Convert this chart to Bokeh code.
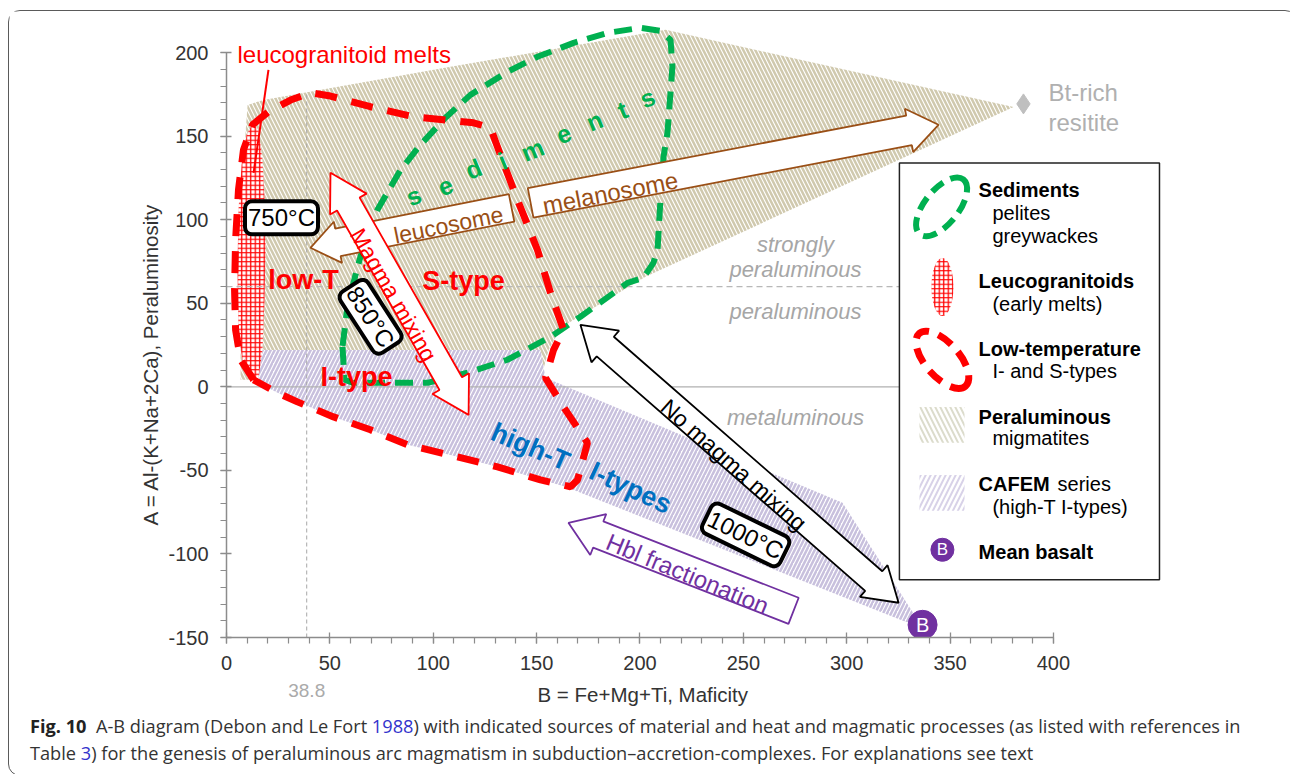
import math
from bokeh.plotting import figure
from bokeh.layouts import column
from bokeh.models import (ColumnDataSource, Label, FixedTicker, Range1d, LinearAxis,
                          PrintfTickFormatter, Div, Title)
from bokeh.core.properties import value
from bokeh.embed import file_html
from bokeh.resources import INLINE

# ---------------------------------------------------------------------------
# Axis ticks (B = Fe+Mg+Ti, A = Al-(K+Na+2Ca))
# ---------------------------------------------------------------------------
b_ticks = [0, 50, 100, 150, 200, 250, 300, 350, 400]
b_minor = list(range(0, 401, 10))
a_ticks = [-150, -100, -50, 0, 50, 100, 150, 200]
a_minor = list(range(-150, 201, 10))

# reference values
b_mean_line = 38.8          # vertical dashed reference
a_strong_split = 60         # strongly peraluminous / peraluminous
a_meta_split = 0            # peraluminous / metaluminous

# ---------------------------------------------------------------------------
# Fields (B, A outlines)
# ---------------------------------------------------------------------------
migmatite_b = [6.8, 6.8, 10.2, 17.9, 108.4, 212.4, 380.7, 202.7, 161.6, 155.8, 151.9]
migmatite_a = [4.2, 111.9, 168.7, 171.7, 191.5, 213.6, 167.5, 65.8, 35.3, 22.1, 4.2]

cafem_b = [12.6, 15.5, 151.9, 154.3, 298.0, 331.8, 334.7, 328.4, 164.0, 131.1,
           109.8, 87.6, 69.7, 51.8, 34.3, 24.7]
cafem_a = [4.2, 22.1, 22.1, 5.4, -69.4, -134.6, -142.4, -140.6, -59.8, -47.9,
           -41.3, -34.7, -25.7, -18.0, -9.0, -3.6]

leuco_b = [12.6, 15.5, 17.4, 18.4, 18.9, 18.4, 17.4, 15.5, 11.6, 8.2, 5.8, 5.3, 5.8, 7.3, 9.7]
leuco_a = [157.4, 153.8, 135.8, 111.9, 82.0, 52.1, 22.1, 5.4, 3.0, 10.2, 34.1, 70.0, 105.9, 132.9, 150.8]

sediments_b = [56.1, 57.1, 61.0, 97.2, 116.6, 135.9, 156.7, 171.2, 194.0, 201.7, 206.5,
               208.5, 209.9, 211.4, 213.3, 215.7, 214.8, 209.9, 200.3, 184.3, 167.9,
               150.4, 135.9, 118.0, 105.9, 93.8, 84.2, 73.0, 67.2, 63.4, 58.5, 56.1]
sediments_a = [23.9, 4.2, 2.4, 2.4, 8.4, 16.2, 29.9, 41.9, 62.2, 65.2, 74.2,
               82.0, 111.9, 137.6, 152.0, 191.5, 207.6, 213.0, 214.8, 211.8, 205.8,
               197.5, 188.5, 174.7, 161.0, 144.8, 129.8, 105.9, 88.0, 71.8, 47.9, 23.9]

low_t_b = [13.1, 6.8, 4.4, 3.9, 4.4, 5.8, 8.2, 12.6, 20.3, 31.0, 40.6, 50.3, 69.6, 90.4,
           119.5, 127.7, 132.5, 139.8, 150.4, 156.7, 163.0, 158.2, 154.3, 163.0, 174.6,
           169.8, 166.4, 151.9, 131.1, 109.8, 87.5, 69.6, 51.8, 34.3, 24.7, 13.1]
low_t_a = [4.2, 16.2, 34.1, 58.0, 88.0, 117.9, 141.8, 156.8, 164.6, 171.6, 176.0, 174.0,
           167.6, 161.6, 158.0, 155.0, 138.8, 114.9, 82.0, 56.3, 34.1, 22.1, 5.4, -12.0,
           -33.5, -55.7, -59.8, -55.7, -47.9, -41.3, -34.7, -25.7, -18.0, -9.0, -3.6, 4.2]

# end members
resitite_b, resitite_a = 385.5, 169.3
basalt_b, basalt_a = 336.7, -142.4

# process arrows: (start, end) in B-A space
leucosome_arrow = ((137.9, 107.1), (40.6, 83.2))
melanosome_arrow = ((147.1, 110.1), (344.4, 156.8))
magma_mixing_arrow = ((50.3, 128.1), (117.1, -16.8))
no_mixing_arrow = ((171.2, 37.1), (325.1, -129.2))
hbl_arrow = ((274.3, -134.0), (165.4, -81.4))

# ---------------------------------------------------------------------------
# Canvas geometry
# ---------------------------------------------------------------------------
W, H = 1277, 716
LEFT, RIGHT, TOP, BOTTOM = 217, 16, 9, 90
B_RANGE = (0, 505)
A_RANGE = (-150, 219.2)
FRAME_W = W - LEFT - RIGHT
FRAME_H = H - TOP - BOTTOM
SX = FRAME_W / (B_RANGE[1] - B_RANGE[0])
SY = FRAME_H / (A_RANGE[1] - A_RANGE[0])

CHART_FONT = "Liberation Sans"
CAPTION_FONT = "Open Sans"
GREEN = "#00b050"
RED = "#ff0000"
BROWN = "#9a4f16"
PURPLE = "#7030a0"
BLUE = "#0070c0"
GREY_TXT = "#a6a6a6"
BEIGE = "#d0c9ae"
LAVENDER = "#c8c0dd"


def arrow_outline(start, end, body, head, head_len, double=False):
    """Block-arrow outline (pixel-sized widths) between two data points."""
    x0, y0 = start[0] * SX, start[1] * SY
    x1, y1 = end[0] * SX, end[1] * SY
    dx, dy = x1 - x0, y1 - y0
    L = math.hypot(dx, dy)
    ux, uy = dx / L, dy / L
    nx, ny = -uy, ux

    def pt(s, t):
        return (x0 + ux * s + nx * t, y0 + uy * s + ny * t)

    if double:
        pts = [pt(0, 0), pt(head_len, head), pt(head_len, body), pt(L - head_len, body),
               pt(L - head_len, head), pt(L, 0), pt(L - head_len, -head),
               pt(L - head_len, -body), pt(head_len, -body), pt(head_len, -head)]
    else:
        pts = [pt(0, body), pt(L - head_len, body), pt(L - head_len, head), pt(L, 0),
               pt(L - head_len, -head), pt(L - head_len, -body), pt(0, -body)]
    return [q[0] / SX for q in pts], [q[1] / SY for q in pts]


p = figure(width=W, height=H, x_range=Range1d(*B_RANGE), y_range=Range1d(*A_RANGE),
           output_backend="svg", toolbar_location=None,
           min_border_left=LEFT, min_border_right=RIGHT,
           min_border_top=TOP, min_border_bottom=BOTTOM)
p.grid.visible = False
p.outline_line_color = None
p.background_fill_color = "white"
p.border_fill_color = "white"

xa, ya = p.xaxis[0], p.yaxis[0]
xa.ticker = FixedTicker(ticks=b_ticks, minor_ticks=b_minor)
ya.ticker = FixedTicker(ticks=a_ticks, minor_ticks=a_minor)
ya.formatter = PrintfTickFormatter(format="%d")
xa.bounds = (b_ticks[0], b_ticks[-1])
ya.bounds = (a_ticks[0], a_ticks[-1])
for ax in (xa, ya):
    ax.axis_line_color = "#8c8c8c"
    ax.axis_line_width = 1.5
    ax.major_tick_line_color = "#8c8c8c"
    ax.minor_tick_line_color = "#8c8c8c"
    ax.major_tick_line_width = 1.3
    ax.minor_tick_line_width = 1.2
    ax.major_tick_in = 5
    ax.major_tick_out = 6
    ax.minor_tick_in = 0
    ax.minor_tick_out = 6
    ax.major_label_text_font = CHART_FONT
    ax.major_label_text_font_size = "20px"
    ax.major_label_text_color = "#333333"
    ax.major_label_standoff = 12

# axis titles
p.add_layout(Title(text="B = Fe+Mg+Ti, Maficity", align="left", offset=311,
                   vertical_align="top", standoff=20, text_font=CHART_FONT,
                   text_font_size="20.5px", text_font_style="normal",
                   text_color="#333333"), "below")
p.add_layout(Title(text="A = Al-(K+Na+2Ca), Peraluminosity", align="left", offset=112,
                   vertical_align="bottom", standoff=8, text_font=CHART_FONT,
                   text_font_size="20.5px", text_font_style="normal",
                   text_color="#333333"), "left")

# second B axis: marks the 38.8 reference value
b_ref_axis = LinearAxis(ticker=FixedTicker(ticks=[b_mean_line], minor_ticks=[]),
                        bounds=(b_ticks[0], b_ticks[-1]),
                        axis_line_color=None, major_tick_line_color=None,
                        minor_tick_line_color=None, major_tick_in=0, major_tick_out=0,
                        minor_tick_in=0, minor_tick_out=0,
                        major_label_text_font=CHART_FONT,
                        major_label_text_font_size="19px",
                        major_label_text_color="#aaaaaa", major_label_standoff=-34)
p.add_layout(b_ref_axis, "below")

# ---- hatched fields -------------------------------------------------------
p.patch(migmatite_b, migmatite_a, fill_color="white", line_color=None,
        hatch_pattern="\\", hatch_color=BEIGE, hatch_weight=2.5, hatch_scale=8)
p.patch(cafem_b, cafem_a, fill_color="white", line_color=None,
        hatch_pattern="/", hatch_color=LAVENDER, hatch_weight=2.5, hatch_scale=8)
p.patch(leuco_b, leuco_a, fill_color="white", line_color=None,
        hatch_pattern="+", hatch_color=RED, hatch_weight=1.3, hatch_scale=4.5)

# ---- reference lines ------------------------------------------------------
p.line([0, 388], [a_meta_split, a_meta_split], color="#b0b0b0", line_width=1.3)
p.line([0, 388], [a_strong_split, a_strong_split], color="#b8b8b8", line_width=1.2,
       line_dash="6 4")
p.line([b_mean_line, b_mean_line], [-150, 176], color="#a8a8a8", line_width=1,
       line_dash="4 3")

# ---- source outlines ------------------------------------------------------
p.line(sediments_b, sediments_a, color=GREEN, line_width=6, line_dash="18 10")
p.line(low_t_b, low_t_a, color=RED, line_width=7, line_dash="22 15")
p.line([20.3, 13.1], [189.7, 128.0], color=RED, line_width=2)

p.scatter([resitite_b], [resitite_a], marker="diamond", size=20, color="#bfbfbf")

# ---- arrows ---------------------------------------------------------------
for arr, col, body, head, hl, dbl in [
        (leucosome_arrow, BROWN, 14, 21, 28, False),
        (melanosome_arrow, BROWN, 15, 22, 30, False),
        (magma_mixing_arrow, RED, 13, 21, 36, True),
        (no_mixing_arrow, "black", 13, 21, 33, True),
        (hbl_arrow, PURPLE, 14, 22, 32, False)]:
    ax_, ay_ = arrow_outline(arr[0], arr[1], body, head, hl, dbl)
    p.patch(ax_, ay_, fill_color="white", line_color=col, line_width=1.8)


def label(x, y, text, size, color="black", style="normal", angle=0, align="center",
          baseline="middle", font=CHART_FONT, **kw):
    p.add_layout(Label(x=x, y=y, text=text, text_font=font, text_font_size=f"{size}px",
                       text_color=color, text_font_style=style, angle=angle,
                       angle_units="deg", text_align=align, text_baseline=baseline, **kw))


# arrow captions
label(107.4, 96.9, "leucosome", 23, BROWN, angle=11.5)
label(185.7, 116.1, "melanosome", 24, BROWN, angle=11)
label(80.8, 55.0, "Magma mixing", 23, RED, angle=-60)
label(245.3, -46.7, "No magma mixing", 23, "black", angle=-41.5)
label(223.0, -111.9, "Hbl fractionation", 24, PURPLE, angle=-22.5)

# sediments lettering along the field
sed_src = ColumnDataSource(dict(
    b=[90.5, 105.9, 119.5, 133.5, 148.0, 163.0, 178.0, 191.6, 203.6],
    a=[114.3, 120.3, 130.4, 135.2, 141.8, 151.4, 159.2, 165.8, 172.9],
    t=list("sediments")))
p.text(x="b", y="a", text="t", source=sed_src, angle=22, angle_units="deg",
       text_font=value(CHART_FONT), text_font_style="bold", text_font_size=value("25px"),
       text_color=GREEN, text_align="center", text_baseline="middle")

# field names
label(37.2, 64.0, "low-T", 27, RED, "bold")
label(114.6, 63.4, "S-type", 27, RED, "bold")
label(62.9, 5.7, "I-type", 27, RED, "bold")
label(147.0, -35.9, "high-T", 27, BLUE, "bold", angle=-23)
label(195.4, -60.4, "I-types", 27, BLUE, "bold", angle=-25)
label(5.3, 198.7, "leucogranitoid melts", 24, RED, align="left")

label(397.6, 175.9, "Bt-rich", 24, "#b0b0b0", align="left")
label(397.6, 158.0, "resitite", 24, "#b0b0b0", align="left")

label(275.2, 85.0, "strongly", 22, GREY_TXT, "italic")
label(275.2, 70.0, "peraluminous", 22, GREY_TXT, "italic")
label(275.2, 44.9, "peraluminous", 22, GREY_TXT, "italic")
label(275.2, -18.5, "metaluminous", 22, GREY_TXT, "italic")

# temperature tags
for tx, ty, tt, ang in [(26.6, 101.1, "750°C", 0), (69.7, 41.9, "850°C", -57),
                        (251.1, -88.6, "1000°C", -26)]:
    label(tx, ty, tt, 24, "black", angle=ang, background_fill_color="white",
          border_line_color="black", border_line_width=4, padding=3, border_radius=7)

# mean basalt
p.scatter([basalt_b], [basalt_a], marker="circle", size=29, color=PURPLE)
label(basalt_b, basalt_a, "B", 20, "white")

# ---- legend ---------------------------------------------------------------
p.quad(left=325.5, right=451.3, top=134.0, bottom=-115.5, fill_color="white",
       line_color="#222222", line_width=1.5)
p.ellipse(x=[345.9], y=[107.7], width=[70], height=[34], angle=[0.9],
          width_units="screen", height_units="screen", fill_color=None,
          line_color=GREEN, line_width=6, line_dash="14 8")
p.ellipse(x=[346.3], y=[59.8], width=[22], height=[58], width_units="screen",
          height_units="screen", fill_color="white", line_color=None,
          hatch_pattern="+", hatch_color=RED, hatch_weight=1.3, hatch_scale=4.5)
p.ellipse(x=[346.3], y=[16.2], width=[70], height=[34], angle=[-0.85],
          width_units="screen", height_units="screen", fill_color=None,
          line_color=RED, line_width=7, line_dash="16 10")
p.quad(left=335.2, right=357.0, top=-12.0, bottom=-33.5, fill_color="white",
       line_color=None, hatch_pattern="\\", hatch_color="#dcdccc", hatch_weight=2,
       hatch_scale=10)
p.quad(left=335.2, right=357.0, top=-52.7, bottom=-74.2, fill_color="white",
       line_color=None, hatch_pattern="/", hatch_color="#d8d2e8", hatch_weight=2,
       hatch_scale=10)
p.scatter([346.3], [-97.5], marker="circle", size=23, color=PURPLE)
label(346.3, -97.5, "B", 17, "white")

for ly, txt in [(117.9, "Sediments"), (63.4, "Leucogranitoids"), (22.7, "Low-temperature"),
                (-18.0, "Peraluminous"), (-58.0, "CAFEM"), (-98.7, "Mean basalt")]:
    label(363.8, ly, txt, 20, "black", "bold", align="left")
for ly, txt in [(104.1, "pelites"), (90.4, "greywackes"), (49.7, "(early melts)"),
                (9.6, "I- and S-types"), (-30.5, "migmatites"), (-71.8, "(high-T I-types)")]:
    label(370.5, ly, txt, 20, "black", align="left")
label(402.0, -58.0, "series", 20, "black", align="left")

# ---- caption --------------------------------------------------------------
LINK = "#3333cc"
caption = Div(
    text=(f'<div style="font-family:\'{CAPTION_FONT}\';font-size:18.2px;line-height:27px;'
          f'color:#333333;white-space:nowrap;padding-left:16px;margin-top:-19px;">'
          f'<b style="color:#222222">Fig. 10</b>&nbsp; A-B diagram (Debon and Le Fort '
          f'<span style="color:{LINK}">1988</span>) with indicated sources of material '
          f'and heat and magmatic processes (as listed with references in<br>'
          f'Table <span style="color:{LINK}">3</span>) for the genesis of peraluminous '
          f'arc magmatism in subduction\u2013accretion-complexes. For explanations see '
          f'text</div>'),
    width=W, height=38)

page = column(p, caption, margin=(10, 0, 0, 8),
              styles={"border": "1px solid #5a5a5a", "border-radius": "12px"})

open("out.html", "w").write(file_html(page, INLINE))
